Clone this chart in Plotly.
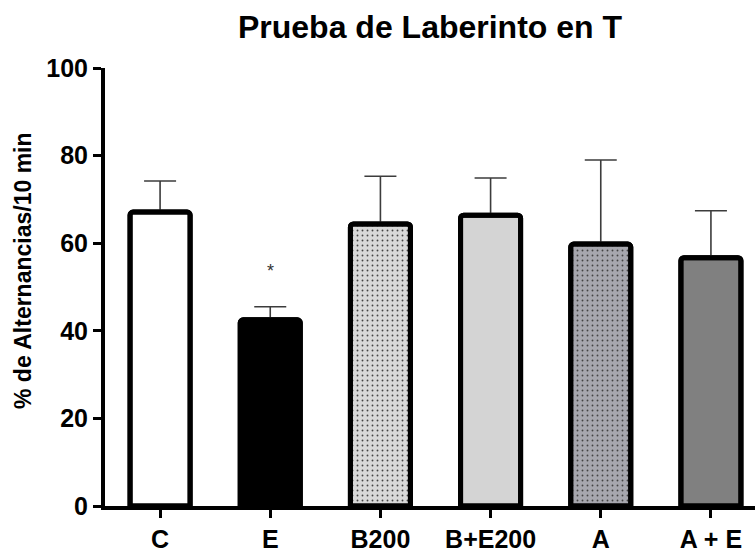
import plotly.graph_objects as go

categories = ["C", "E", "B200", "B+E200", "A", "A + E"]
means = [67.1, 42.5, 64.4, 66.4, 59.8, 56.7]
sem = [7.1, 3.0, 10.9, 8.5, 19.2, 10.7]
fill_colors = ["#ffffff", "#000000", "#d9d9d9", "#d4d4d4", "#a7a7ae", "#808080"]
dot_colors = ["#ffffff", "#000000", "#9c9c9c", "#d4d4d4", "#707078", "#808080"]
dot_shapes = ["", "", ".", "", ".", ""]
y_ticks = [0, 20, 40, 60, 80, 100]
sig_marks = ["", "*", "", "", "", ""]
sig_y = [None, 53.7, None, None, None, None]

FONT = "Liberation Sans, Arial, Helvetica, sans-serif"

fig = go.Figure()
fig.add_trace(go.Bar(
    x=categories,
    y=means,
    width=0.545,
    marker=dict(
        color=fill_colors,
        line=dict(color="#000000", width=5),
        cornerradius=3,
        pattern=dict(shape=dot_shapes, fgcolor=dot_colors, fgopacity=1,
                     size=5, solidity=0.11, fillmode="overlay"),
    ),
    error_y=dict(type="data", symmetric=False, array=sem,
                 arrayminus=[0] * len(sem), color="#3c3c3c",
                 thickness=1.6, width=16),
    showlegend=False,
    hoverinfo="skip",
))
# outline-only copy drawn on top so the bar tops stay solid black
fig.add_trace(go.Bar(
    x=categories,
    y=means,
    width=0.545,
    marker=dict(color="rgba(0,0,0,0)", line=dict(color="#000000", width=5),
                cornerradius=3),
    showlegend=False,
    hoverinfo="skip",
))

for c, m, yv in zip(categories, sig_marks, sig_y):
    if m:
        fig.add_annotation(x=c, y=yv, text=m, showarrow=False,
                           font=dict(family=FONT, size=18, color="#333333"))

fig.add_annotation(
    xref="paper", yref="paper", x=-105 / 650 + 23 / 650, y=(506 - 270) / 438,
    text="% de Alternancias/10 min", textangle=-90, showarrow=False,
    xanchor="center", yanchor="middle",
    font=dict(family=FONT, size=23, color="#000000", weight="bold"),
)

fig.update_layout(
    width=755, height=553,
    margin=dict(l=105, r=0, t=68, b=47, autoexpand=False),
    paper_bgcolor="white", plot_bgcolor="white",
    title=dict(text="Prueba de Laberinto en T", x=0.5, xref="paper",
               y=1 - 27 / 553, yref="container", yanchor="middle",
               automargin=False,
               font=dict(family=FONT, size=32, color="#000000", weight="bold")),
    barmode="overlay",
)
fig.update_xaxes(
    range=[-0.5, 5.4], showline=True, linecolor="#000000", linewidth=4,
    ticks="outside", ticklen=8, tickwidth=3, tickcolor="#000000",
    tickfont=dict(family=FONT, size=25, color="#000000", weight="bold"),
    showgrid=False, zeroline=False, automargin=False, ticklabelstandoff=0,
)
fig.update_yaxes(
    range=[0, 100], tickvals=y_ticks, showline=True, linecolor="#000000",
    linewidth=4, ticks="outside", ticklen=8, tickwidth=3, tickcolor="#000000",
    tickfont=dict(family=FONT, size=25, color="#000000", weight="bold"),
    showgrid=False, zeroline=False, automargin=False,
)

fig.write_html(
    "out.html",
    config={"displayModeBar": False},
    post_script="document.body.style.margin='0';document.body.style.overflow='hidden';",
)
